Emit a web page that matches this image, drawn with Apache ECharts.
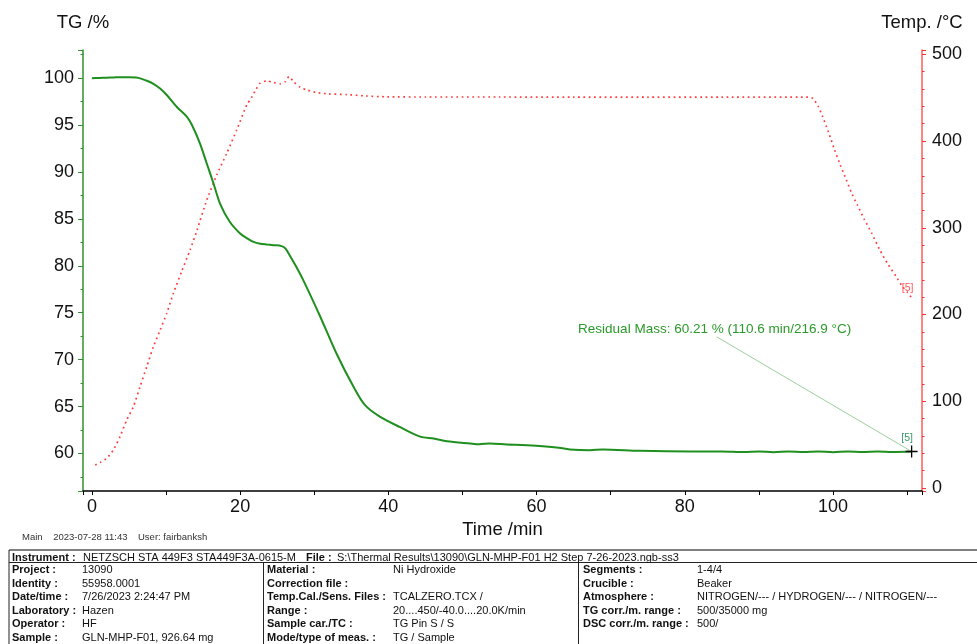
<!DOCTYPE html>
<html><head><meta charset="utf-8">
<script src="https://cdn.jsdelivr.net/npm/echarts@6/dist/echarts.min.js"></script>
<style>html,body{margin:0;padding:0;background:#fff}#c{width:977px;height:644px}</style>
</head><body><div id="c"></div>
<script>
// ---------- data ----------
const tgTime = [0, 1, 2, 3, 4, 5, 6, 6.8, 7.5, 8.3, 9.2, 10.1, 11.5, 12.8, 13.5, 14.6, 15.5, 16.4, 17.3, 18.6, 20, 21, 21.8, 22.7, 23.6, 24.5, 25.6, 26.1, 26.7, 27.5, 28.5, 30.8, 33.0, 35.3, 36.85, 38.9, 41.6, 44.3, 46.1, 47.9, 51.0, 52.3, 53.7, 56, 58, 60.4, 62.7, 64.5, 67.2, 68.9, 73.9, 80.7, 85, 88, 90, 92, 94, 96, 98, 100, 102, 104, 106, 108, 110.6];
const tgValue = [100, 100.02, 100.05, 100.08, 100.1, 100.1, 100.08, 99.9, 99.7, 99.4, 98.9, 98.2, 96.9, 95.9, 95.0, 93.0, 90.9, 88.8, 86.6, 84.7, 83.45, 82.9, 82.55, 82.35, 82.27, 82.2, 82.1, 81.85, 81.1, 80.0, 78.5, 74.6, 70.65, 67.1, 65.15, 63.9, 62.8, 61.8, 61.6, 61.3, 61.07, 60.99, 61.07, 60.95, 60.9, 60.8, 60.64, 60.43, 60.35, 60.42, 60.28, 60.21, 60.22, 60.15, 60.22, 60.14, 60.22, 60.15, 60.22, 60.14, 60.22, 60.15, 60.22, 60.16, 60.21];
const tempTime = [0.45, 1.1, 2.0, 2.9, 3.8, 4.7, 5.6, 6.5, 7.4, 8.3, 9.2, 10.1, 11.0, 12.1, 13.25, 14.2, 15.5, 16.85, 18.2, 19.55, 20.9, 21.6, 22.15, 22.7, 23.6, 24.5, 25.4, 26.1, 26.6, 27.2, 28.1, 29.0, 30.3, 31.9, 34.4, 37, 39.8, 45, 55, 65, 75, 85, 96.8, 97.3, 98.0, 98.6, 99.4, 100.2, 101.0, 101.8, 102.5, 103.3, 104.2, 105.2, 106.3, 107.4, 108.5, 109.3, 110.0, 110.8];
const tempValue = [26.5, 29.2, 34.2, 43.8, 59.2, 78.4, 93.8, 116.8, 139.9, 163, 182, 201.5, 224.6, 249.5, 274.5, 297.6, 332, 361, 386, 413, 441.8, 451, 459.8, 466.8, 469.4, 467.5, 466, 468.6, 474.4, 468.6, 462, 459, 456, 454.4, 453.6, 452, 451, 450.8, 450.8, 450.6, 450.6, 450.6, 450.6, 449, 440, 428, 410, 390, 372, 355, 340, 326, 310, 294, 274.5, 258, 244, 233, 226, 217];
const xTickLabels = [0, 20, 40, 60, 80, 100];
const tgTickLabels = [60, 65, 70, 75, 80, 85, 90, 95, 100];
const tempTickLabels = [0, 100, 200, 300, 400, 500];
const residual = {time: 110.6, mass: 60.21, temp: 216.9};
const annotationText = 'Residual Mass: 60.21 % (110.6 min/216.9 °C)';
const headerText = 'Main    2023-07-28 11:43    User: fairbanksh';
const instrumentRow = ['Instrument :', 'NETZSCH STA 449F3 STA449F3A-0615-M', 'File :', 'S:\\Thermal Results\\13090\\GLN-MHP-F01 H2 Step 7-26-2023.ngb-ss3'];
const col1Labels = ['Project :', 'Identity :', 'Date/time :', 'Laboratory :', 'Operator :', 'Sample :'];
const col1Values = ['13090', '55958.0001', '7/26/2023 2:24:47 PM', 'Hazen', 'HF', 'GLN-MHP-F01, 926.64 mg'];
const col2Labels = ['Material :', 'Correction file :', 'Temp.Cal./Sens. Files :', 'Range :', 'Sample car./TC :', 'Mode/type of meas. :'];
const col2Values = ['Ni Hydroxide', '', 'TCALZERO.TCX /', '20....450/-40.0....20.0K/min', 'TG Pin S / S', 'TG / Sample'];
const col3Labels = ['Segments :', 'Crucible :', 'Atmosphere :', 'TG corr./m. range :', 'DSC corr./m. range :'];
const col3Values = ['1-4/4', 'Beaker', 'NITROGEN/--- / HYDROGEN/--- / NITROGEN/---', '500/35000 mg', '500/'];

// ---------- build ----------
const FONT = 'Liberation Sans, Arial, sans-serif';
const GREEN = '#1f8f1f';
const AXG = '#2f922f';
const RED = '#ff3030';
const tgData = tgTime.map((t, i) => [t, tgValue[i]]);
const tempData = tempTime.map((t, i) => [t, tempValue[i]]);

const near = (v, list) => list.some(x => Math.abs(x - v) < 1e-6);

const chart = echarts.init(document.getElementById('c'), null, {renderer: 'canvas'});

const graphics = [];
graphics.push({type: 'text', left: 22, top: 532, style: {text: headerText, font: '9.5px ' + FONT, fill: '#333'}});
graphics.push({type: 'line', shape: {x1: 9, y1: 550, x2: 977, y2: 550}, style: {stroke: '#808080', lineWidth: 2}});
graphics.push({type: 'line', shape: {x1: 9, y1: 562.5, x2: 977, y2: 562.5}, style: {stroke: '#222', lineWidth: 1}});
graphics.push({type: 'line', shape: {x1: 9, y1: 550, x2: 9, y2: 644}, style: {stroke: '#222', lineWidth: 1}});
graphics.push({type: 'line', shape: {x1: 263.5, y1: 562.5, x2: 263.5, y2: 644}, style: {stroke: '#222', lineWidth: 1}});
graphics.push({type: 'line', shape: {x1: 578.5, y1: 562.5, x2: 578.5, y2: 644}, style: {stroke: '#222', lineWidth: 1}});
const rowY = [570, 584, 597.3, 611, 624.3, 637.7];
function txt(x, y, s, bold) {
  graphics.push({type: 'text', x: x, y: y, style: {text: s, font: (bold ? 'bold ' : '') + '11px ' + FONT, fill: '#111', textVerticalAlign: 'middle', verticalAlign: 'middle'}});
}
txt(12, 557.5, instrumentRow[0], true);
txt(83, 557.5, instrumentRow[1], false);
txt(306, 557.5, instrumentRow[2], true);
txt(337, 557.5, instrumentRow[3], false);
col1Labels.forEach((s, i) => { txt(12, rowY[i], s, true); txt(82, rowY[i], col1Values[i], false); });
col2Labels.forEach((s, i) => { txt(267, rowY[i], s, true); txt(393, rowY[i], col2Values[i], false); });
col3Labels.forEach((s, i) => { txt(583, rowY[i], s, true); txt(697, rowY[i], col3Values[i], false); });

const labelStyle = {fontSize: 18, color: '#111', fontFamily: FONT};

chart.setOption({
  animation: false,
  backgroundColor: '#fff',
  grid: {left: 83, right: 55, top: 50, bottom: 153, containLabel: false},
  xAxis: [{
    type: 'value', min: -1.2, max: 112, minInterval: 10, maxInterval: 10, splitNumber: 11,
    axisLine: {onZero: false, lineStyle: {color: '#000', width: 1.5}},
    axisTick: {length: 4, lineStyle: {color: '#000', width: 1}},
    axisLabel: Object.assign({margin: 7, formatter: v => near(v, xTickLabels) ? String(Math.round(v)) : ''}, labelStyle),
    splitLine: {show: false},
    name: 'Time /min', nameLocation: 'middle', nameGap: 20,
    nameTextStyle: {fontSize: 18.5, color: '#111', fontFamily: FONT}
  }],
  yAxis: [{
    type: 'value', min: 56, max: 103, minInterval: 5, maxInterval: 5, splitNumber: 9, position: 'left',
    axisLine: {show: true, onZero: false, lineStyle: {color: AXG, width: 1.5}},
    axisTick: {length: 5, lineStyle: {color: AXG, width: 1}},
    axisLabel: Object.assign({margin: 9, formatter: v => near(v, tgTickLabels) ? String(Math.round(v)) : ''}, labelStyle),
    splitLine: {show: false},
    name: 'TG /%', nameLocation: 'end', nameGap: 18,
    nameTextStyle: {fontSize: 18.5, color: '#111', fontFamily: FONT}
  }, {
    type: 'value', min: 56, max: 103, minInterval: 2.5, maxInterval: 2.5, splitNumber: 19, position: 'left',
    axisLine: {show: false, onZero: false}, axisTick: {length: 2.5, lineStyle: {color: AXG, width: 1}},
    axisLabel: {show: false}, splitLine: {show: false}
  }, {
    type: 'value', min: -3.5, max: 505, minInterval: 100, maxInterval: 100, splitNumber: 5, position: 'right',
    axisLine: {show: true, onZero: false, lineStyle: {color: '#ff5c5c', width: 1.5}},
    axisTick: {length: 4, lineStyle: {color: RED, width: 1}},
    axisLabel: Object.assign({margin: 10, formatter: v => near(v, tempTickLabels) ? String(Math.round(v)) : ''}, labelStyle),
    splitLine: {show: false},
    name: 'Temp. /°C', nameLocation: 'end', nameGap: 18,
    nameTextStyle: {fontSize: 18.5, color: '#111', fontFamily: FONT}
  }, {
    type: 'value', min: -3.5, max: 505, minInterval: 20, maxInterval: 20, splitNumber: 25, position: 'right',
    axisLine: {show: false, onZero: false}, axisTick: {length: 2.5, lineStyle: {color: RED, width: 1}},
    axisLabel: {show: false}, splitLine: {show: false}
  }],
  series: [{
    type: 'line', name: 'TG', xAxisIndex: 0, yAxisIndex: 0, data: tgData,
    showSymbol: false, smooth: 0.3, lineStyle: {color: GREEN, width: 2}, itemStyle: {color: GREEN},
    z: 3,
    markLine: {
      silent: true, symbol: 'none', label: {show: false},
      lineStyle: {color: '#9ccf9c', width: 1, type: 'solid'},
      data: [[{coord: [84.3, 72.43]}, {coord: [residual.time, residual.mass]}]]
    },
    markPoint: {
      silent: true,
      data: [
        {coord: [residual.time, residual.mass], symbol: 'path://M0,6L12,6M6,0L6,12', symbolSize: 12,
          itemStyle: {color: 'none', borderColor: '#000', borderWidth: 1.3}, label: {show: false}},
        {coord: [110.0, 61.6], symbol: 'circle', symbolSize: 1, itemStyle: {color: 'rgba(0,0,0,0)'},
          label: {show: true, position: 'inside', formatter: '[5]', color: '#3a9a6a', fontSize: 10.5, fontFamily: FONT}},
        {coord: [65.6, 73.26], symbol: 'circle', symbolSize: 1, itemStyle: {color: 'rgba(0,0,0,0)'},
          label: {show: true, position: 'inside', align: 'left', formatter: annotationText, color: '#2a9a2a', fontSize: 13.5, fontFamily: FONT}}
      ]
    }
  }, {
    type: 'line', name: 'Temp', xAxisIndex: 0, yAxisIndex: 2, data: tempData,
    showSymbol: false, smooth: 0.2,
    lineStyle: {color: 'rgba(255,25,25,0.85)', width: 1.7, type: [1.7, 3.6]}, itemStyle: {color: RED},
    z: 2,
    markPoint: {
      silent: true,
      data: [{coord: [110.06, 230.3], symbol: 'circle', symbolSize: 1, itemStyle: {color: 'rgba(0,0,0,0)'},
        label: {show: true, position: 'inside', formatter: '[5]', color: '#ff5a5a', fontSize: 10.5, fontFamily: FONT}}]
    }
  }],
  graphic: graphics
});
</script></body></html>
